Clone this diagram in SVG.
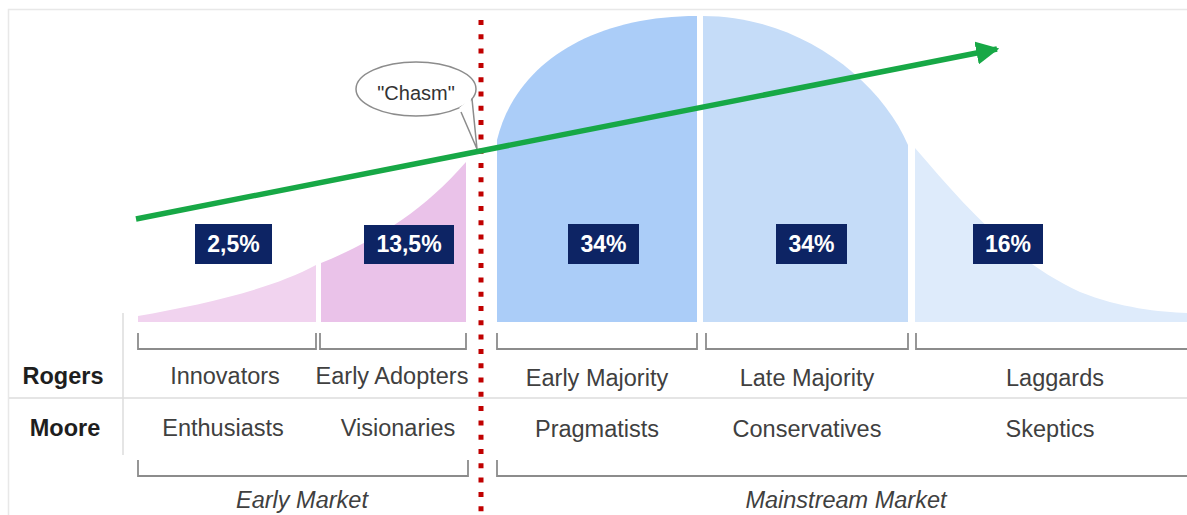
<svg xmlns="http://www.w3.org/2000/svg" width="1187" height="515" viewBox="0 0 1187 515">
  <defs>
    <style>
      .lbl { font-family: "Liberation Sans", Arial, sans-serif; font-size: 23.5px; fill: #404040; text-anchor: middle; }
      .row { font-family: "Liberation Sans", Arial, sans-serif; font-size: 23.5px; font-weight: bold; fill: #1e1e1e; text-anchor: middle; }
      .mkt { font-family: "Liberation Sans", Arial, sans-serif; font-size: 23.5px; font-style: italic; fill: #404040; text-anchor: middle; }
      .pct-box { fill: #0d2464; }
      .pct { font-family: "Liberation Sans", Arial, sans-serif; font-size: 23px; font-weight: bold; fill: #ffffff; text-anchor: middle; }
      .bracket { fill: none; stroke: #8c8c8c; stroke-width: 1.8; }
      .rule { fill: none; stroke: #dddddd; stroke-width: 1.5; }
    </style>
    <marker id="arrowhead" viewBox="0 0 10 10" refX="9" refY="5" markerWidth="4.2" markerHeight="4.2" orient="auto" markerUnits="strokeWidth">
      <path d="M0,0 L10,5 L0,10 Z" fill="#17a846"/>
    </marker>
  </defs>

  <rect width="1187" height="515" fill="#ffffff"/>
  <!-- frame -->
  <path d="M8.5,515 L8.5,9.5 L1187,9.5" fill="none" stroke="#e8e8e8" stroke-width="1.5"/>

  <!-- adoption curve segments -->
  <g id="innovators">
    <path d="M138,322 L138,316 C200,305 270,290 316,265 L316,322 Z" fill="#f1d3ef"/>
    <rect class="pct-box" x="195" y="224" width="77" height="40"/>
    <text class="pct" x="233.5" y="252">2,5%</text>
  </g>
  <g id="early-adopters">
    <path d="M321,322 L321,263 C370,243 420,215 466,162 L466,322 Z" fill="#eac2e9"/>
    <rect class="pct-box" x="364" y="225" width="90" height="39"/>
    <text class="pct" x="409" y="252">13,5%</text>
  </g>
  <g id="early-majority">
    <path d="M497,322 L497,140 C515,65 590,16 697,16 L697,322 Z" fill="#abcdf8"/>
    <rect class="pct-box" x="568" y="224" width="71" height="40"/>
    <text class="pct" x="603.5" y="252">34%</text>
  </g>
  <g id="late-majority">
    <path d="M703,322 L703,16 C800,16 880,80 908,145 L908,322 Z" fill="#c5dcf8"/>
    <rect class="pct-box" x="776" y="224" width="71" height="40"/>
    <text class="pct" x="811.5" y="252">34%</text>
  </g>
  <g id="laggards">
    <path d="M915,322 L915,148 C960,200 1010,260 1080,292 C1120,308 1160,312 1187,313 L1187,322 Z" fill="#deebfb"/>
    <rect class="pct-box" x="973" y="224" width="70" height="40"/>
    <text class="pct" x="1008" y="252">16%</text>
  </g>

  <!-- table rules and row headers -->
  <g id="table">
    <line class="rule" x1="123" y1="313" x2="123" y2="455"/>
    <line class="rule" x1="9" y1="398" x2="1187" y2="398"/>
    <text class="row" x="63" y="384">Rogers</text>
    <text class="row" x="65" y="436">Moore</text>
  </g>

  <g id="rogers-labels">
    <text class="lbl" x="225" y="384">Innovators</text>
    <text class="lbl" x="392" y="384">Early Adopters</text>
    <text class="lbl" x="597" y="386">Early Majority</text>
    <text class="lbl" x="807" y="386">Late Majority</text>
    <text class="lbl" x="1055" y="386">Laggards</text>
  </g>
  <g id="moore-labels">
    <text class="lbl" x="223" y="436">Enthusiasts</text>
    <text class="lbl" x="398" y="436">Visionaries</text>
    <text class="lbl" x="597" y="437">Pragmatists</text>
    <text class="lbl" x="807" y="437">Conservatives</text>
    <text class="lbl" x="1050" y="437">Skeptics</text>
  </g>
  <g id="market-labels">
    <text class="mkt" x="302" y="508">Early Market</text>
    <text class="mkt" x="846" y="508">Mainstream Market</text>
  </g>

  <g id="chasm-bubble">
    <path d="M461,112 L477,149 L472,99" fill="#ffffff" stroke="#8c8c8c" stroke-width="1.5" stroke-linejoin="round"/>
    <ellipse cx="416" cy="89" rx="60" ry="27" fill="#ffffff" stroke="#8c8c8c" stroke-width="1.5"/>
    <path d="M459,108 L471,98 L470,116 Z" fill="#ffffff"/>
    <text x="416" y="100" font-family="Liberation Sans, Arial, sans-serif" font-size="20" fill="#333333" text-anchor="middle">"Chasm"</text>
  </g>

  <g id="connectors">
    <!-- segment brackets -->
    <path class="bracket" d="M138,333 L138,349 L316,349 L316,333"/>
    <path class="bracket" d="M320,333 L320,349 L466,349 L466,333"/>
    <path class="bracket" d="M497,333 L497,349 L697,349 L697,333"/>
    <path class="bracket" d="M706,333 L706,349 L908,349 L908,333"/>
    <path class="bracket" d="M916,333 L916,349 L1187,349"/>
    <!-- market brackets -->
    <path class="bracket" d="M138,460 L138,476 L468,476 L468,460"/>
    <path class="bracket" d="M497,460 L497,476 L1187,476"/>
    <!-- chasm divider -->
    <line x1="481" y1="20" x2="481" y2="513" stroke="#c00000" stroke-width="5" stroke-dasharray="5 9.3"/>
    <!-- adoption trend arrow -->
    <line x1="136" y1="219" x2="997" y2="49" stroke="#17a846" stroke-width="5.5" marker-end="url(#arrowhead)"/>
  </g>
</svg>
